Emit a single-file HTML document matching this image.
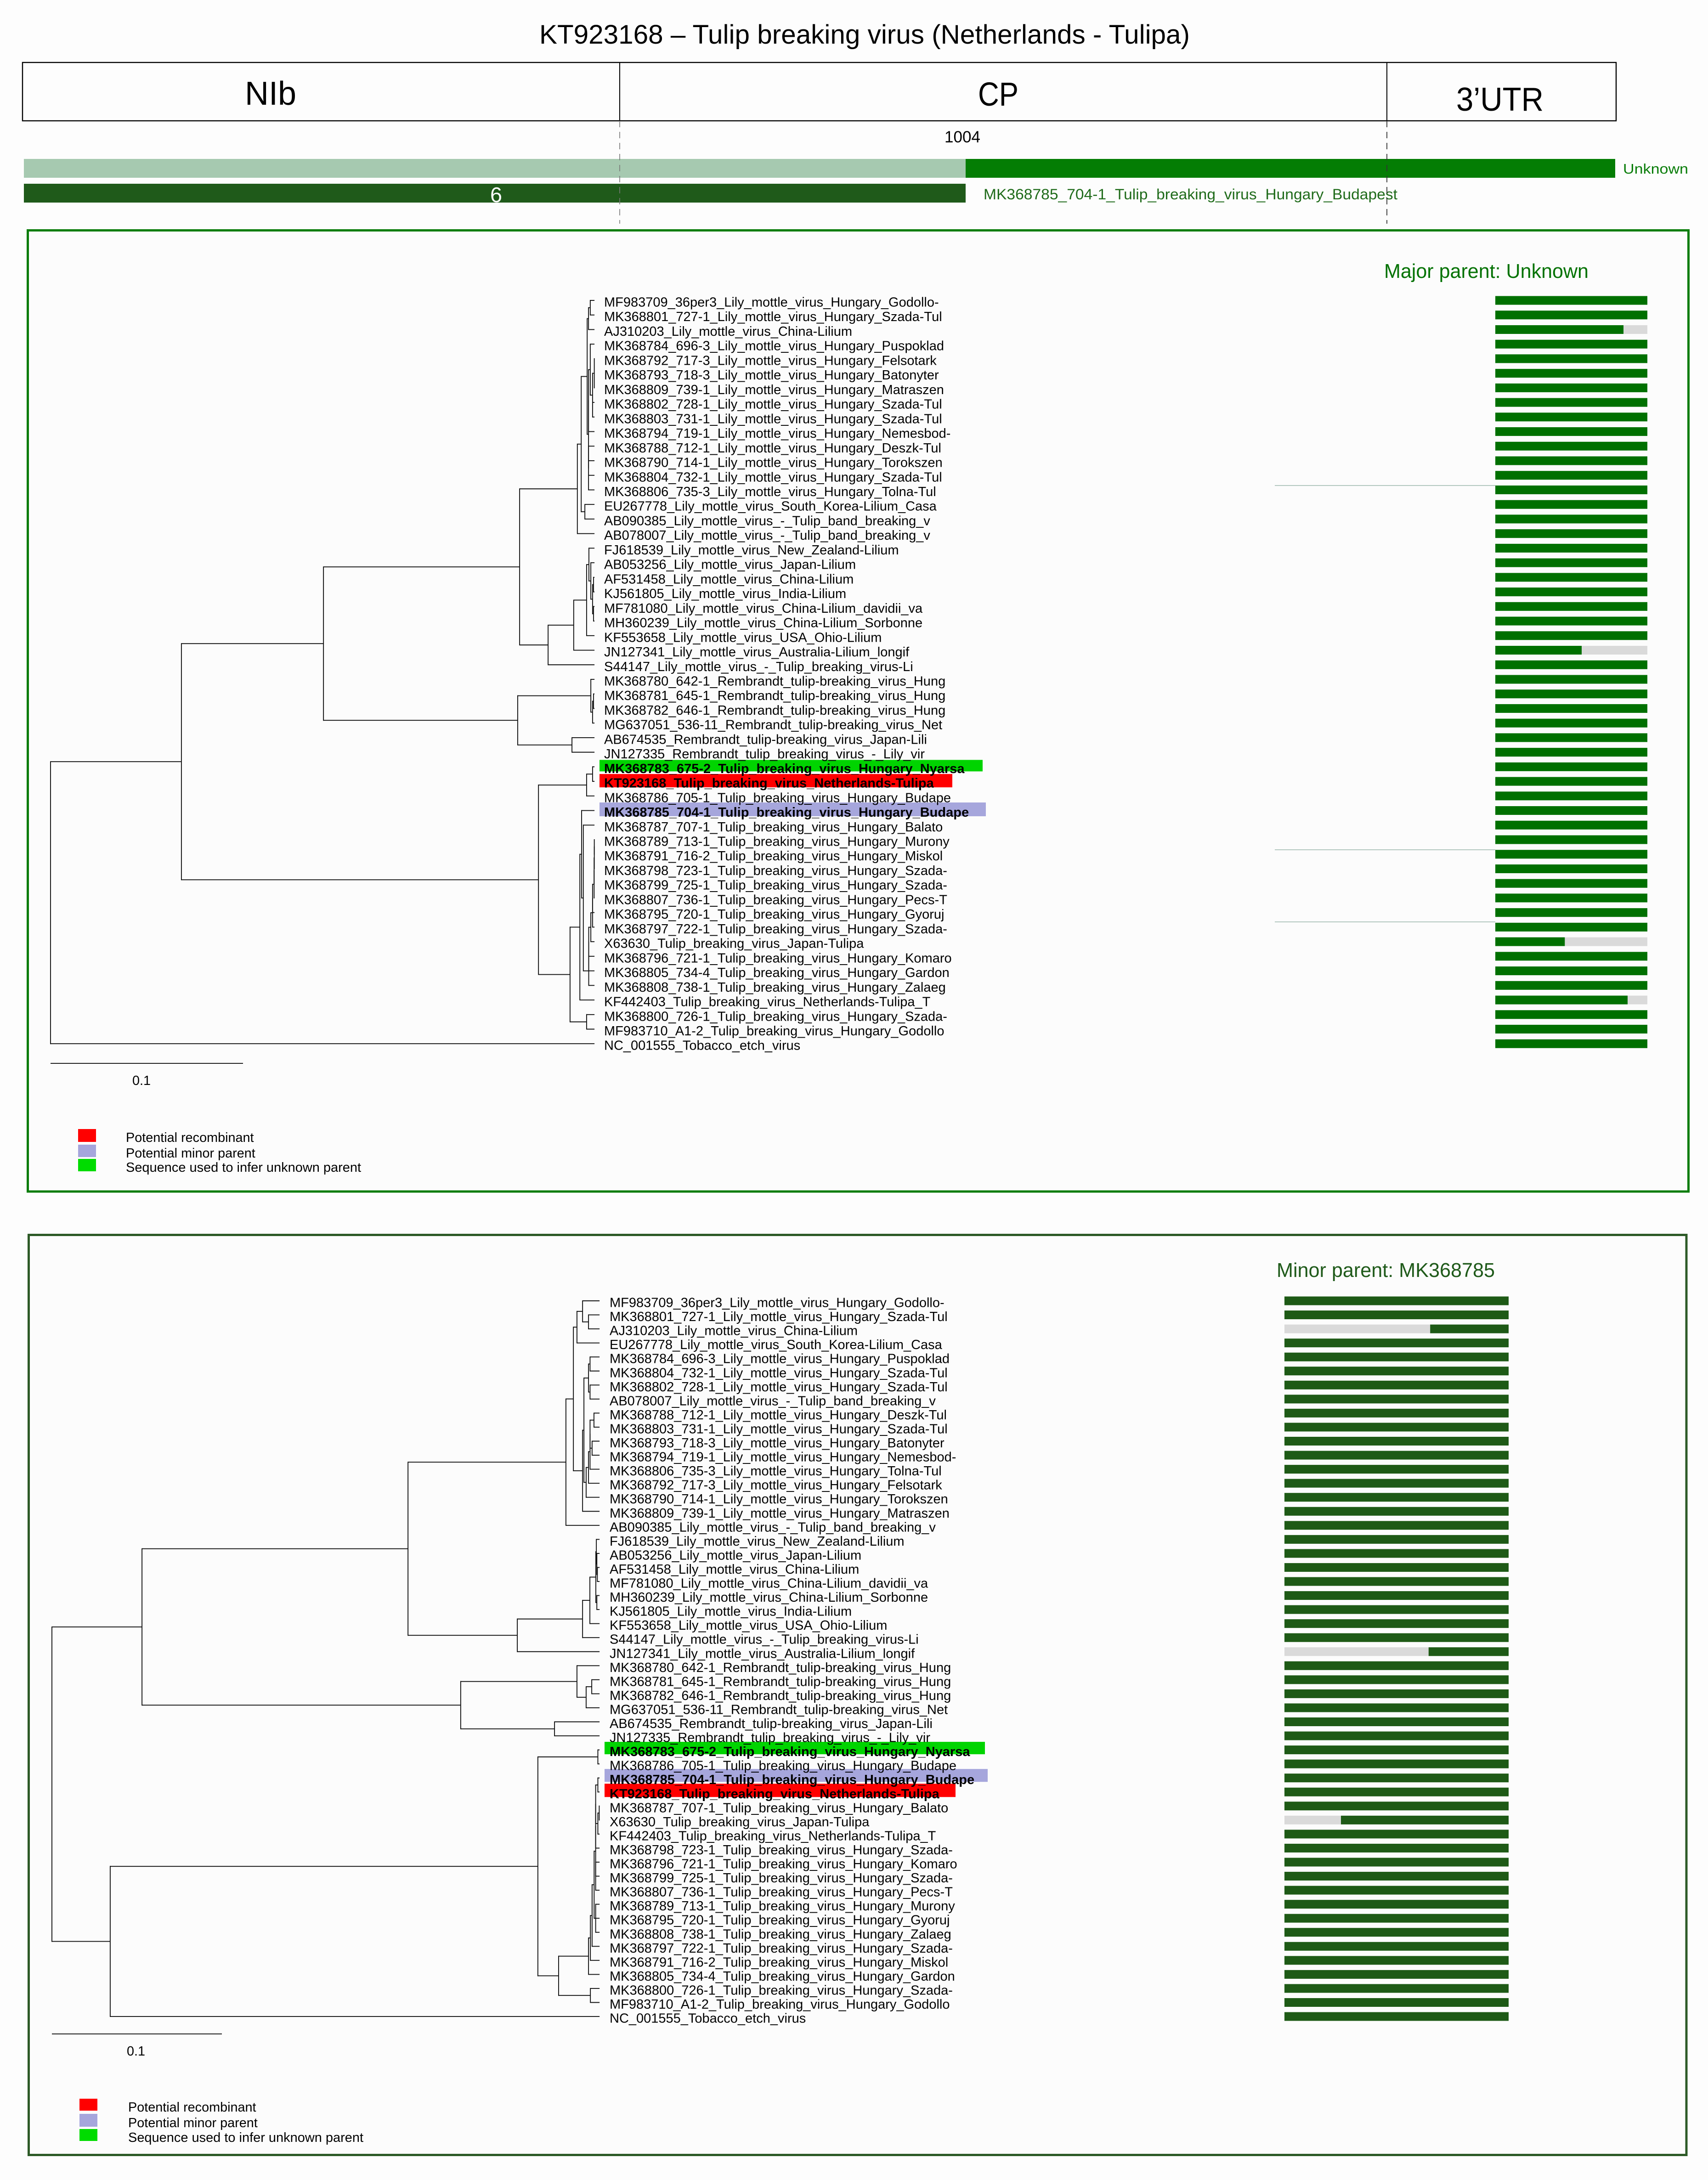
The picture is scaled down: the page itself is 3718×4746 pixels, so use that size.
<!DOCTYPE html>
<html lang="en">
<head>
<meta charset="utf-8">
<title>KT923168 recombination analysis</title>
<style>
html,body{margin:0;padding:0;background:#fdfdfd;}
body{width:3718px;height:4746px;overflow:hidden;}
svg{display:block;}
text{font-family:"Liberation Sans",sans-serif;}
</style>
</head>
<body>
<svg id="fig" xmlns="http://www.w3.org/2000/svg" width="3718" height="4746" viewBox="0 0 3718 4746">
  <rect x="0" y="0" width="3718" height="4746" fill="#fdfdfd"/>
  <text x="1174" y="95" font-size="58" textLength="1416" lengthAdjust="spacingAndGlyphs" fill="#000">KT923168 – Tulip breaking virus (Netherlands - Tulipa)</text>

  <rect x="49" y="136" width="3469" height="127" fill="#fdfdfd" stroke="#000" stroke-width="2.4"/>
  <line x1="1349" y1="136" x2="1349" y2="263" stroke="#000" stroke-width="2"/>
  <line x1="3019" y1="136" x2="3019" y2="263" stroke="#000" stroke-width="2"/>
  <text x="533" y="228" font-size="72" textLength="112" lengthAdjust="spacingAndGlyphs">NIb</text>
  <text x="2129" y="230" font-size="72" textLength="88" lengthAdjust="spacingAndGlyphs">CP</text>
  <text x="3170" y="241" font-size="72" textLength="190" lengthAdjust="spacingAndGlyphs">3’UTR</text>

  <text x="2056" y="310" font-size="35" textLength="78" lengthAdjust="spacingAndGlyphs">1004</text>

  <rect x="52" y="346" width="2050" height="41" fill="#a6c9b0"/>
  <rect x="2102" y="346" width="1414" height="41" fill="#047d04"/>
  <text x="3533" y="378" font-size="31" textLength="142" lengthAdjust="spacingAndGlyphs" fill="#0a7d0a">Unknown</text>
  <rect x="52" y="400" width="2050" height="41" fill="#1f5a1a"/>
  <text x="1067" y="440" font-size="46" textLength="26" lengthAdjust="spacingAndGlyphs" fill="#fff">6</text>
  <text x="2141" y="434" font-size="32" textLength="901" lengthAdjust="spacingAndGlyphs" fill="#1f6b1a">MK368785_704-1_Tulip_breaking_virus_Hungary_Budapest</text>

  <line x1="1349" y1="263" x2="1349" y2="487" stroke="#777" stroke-width="1.6" stroke-dasharray="14 10"/>
  <line x1="3019" y1="263" x2="3019" y2="487" stroke="#333" stroke-width="1.8" stroke-dasharray="14 10"/>

  <rect x="60.5" y="501.5" width="3615" height="2092.5" fill="#fcfcfc" stroke="#0b7d0b" stroke-width="5"/>
  <rect x="62.5" y="2688.5" width="3608.5" height="2003" fill="#fcfcfc" stroke="#2d5a27" stroke-width="5"/>

  <text x="3013" y="605" font-size="44" textLength="445" lengthAdjust="spacingAndGlyphs" fill="#047204">Major parent: Unknown</text>
  <text x="2779" y="2780" font-size="44" textLength="475" lengthAdjust="spacingAndGlyphs" fill="#1f5a1a">Minor parent: MK368785</text>

  <line x1="2775" y1="1057" x2="3255" y2="1057" stroke="#b4c8c0" stroke-width="2"/>
  <line x1="2775" y1="1850" x2="3255" y2="1850" stroke="#b4c8c0" stroke-width="2"/>
  <line x1="2775" y1="2007" x2="3255" y2="2007" stroke="#b4c8c0" stroke-width="2"/>

  <line x1="110" y1="2315" x2="529" y2="2315" stroke="#222" stroke-width="2"/>
  <text x="288" y="2362" font-size="28.8">0.1</text>
  <rect x="170" y="2458" width="39" height="28" fill="#ff0000"/>
  <rect x="170" y="2492" width="39" height="27" fill="#a6a6dc"/>
  <rect x="170" y="2523" width="39" height="27" fill="#00dc00"/>
  <text x="274" y="2486" font-size="28.8">Potential recombinant</text>
  <text x="274" y="2520" font-size="28.8">Potential minor parent</text>
  <text x="274" y="2551" font-size="28.8" textLength="512" lengthAdjust="spacingAndGlyphs">Sequence used to infer unknown parent</text>

  <line x1="113" y1="4428" x2="483" y2="4428" stroke="#222" stroke-width="2"/>
  <text x="276" y="4475" font-size="28.8">0.1</text>
  <rect x="173" y="4569" width="39" height="26" fill="#ff0000"/>
  <rect x="173" y="4602" width="39" height="28" fill="#a6a6dc"/>
  <rect x="173" y="4635" width="39" height="26" fill="#00dc00"/>
  <text x="279" y="4597" font-size="28.8">Potential recombinant</text>
  <text x="279" y="4631" font-size="28.8">Potential minor parent</text>
  <text x="279" y="4663" font-size="28.8" textLength="512" lengthAdjust="spacingAndGlyphs">Sequence used to infer unknown parent</text>

  <g id="major-layer"></g>
  <g id="minor-layer"></g>
</svg>
<script>
// ---------- Data: major-parent panel ----------
const majorTaxa = [
"MF983709_36per3_Lily_mottle_virus_Hungary_Godollo-",
"MK368801_727-1_Lily_mottle_virus_Hungary_Szada-Tul",
"AJ310203_Lily_mottle_virus_China-Lilium",
"MK368784_696-3_Lily_mottle_virus_Hungary_Puspoklad",
"MK368792_717-3_Lily_mottle_virus_Hungary_Felsotark",
"MK368793_718-3_Lily_mottle_virus_Hungary_Batonyter",
"MK368809_739-1_Lily_mottle_virus_Hungary_Matraszen",
"MK368802_728-1_Lily_mottle_virus_Hungary_Szada-Tul",
"MK368803_731-1_Lily_mottle_virus_Hungary_Szada-Tul",
"MK368794_719-1_Lily_mottle_virus_Hungary_Nemesbod-",
"MK368788_712-1_Lily_mottle_virus_Hungary_Deszk-Tul",
"MK368790_714-1_Lily_mottle_virus_Hungary_Torokszen",
"MK368804_732-1_Lily_mottle_virus_Hungary_Szada-Tul",
"MK368806_735-3_Lily_mottle_virus_Hungary_Tolna-Tul",
"EU267778_Lily_mottle_virus_South_Korea-Lilium_Casa",
"AB090385_Lily_mottle_virus_-_Tulip_band_breaking_v",
"AB078007_Lily_mottle_virus_-_Tulip_band_breaking_v",
"FJ618539_Lily_mottle_virus_New_Zealand-Lilium",
"AB053256_Lily_mottle_virus_Japan-Lilium",
"AF531458_Lily_mottle_virus_China-Lilium",
"KJ561805_Lily_mottle_virus_India-Lilium",
"MF781080_Lily_mottle_virus_China-Lilium_davidii_va",
"MH360239_Lily_mottle_virus_China-Lilium_Sorbonne",
"KF553658_Lily_mottle_virus_USA_Ohio-Lilium",
"JN127341_Lily_mottle_virus_Australia-Lilium_longif",
"S44147_Lily_mottle_virus_-_Tulip_breaking_virus-Li",
"MK368780_642-1_Rembrandt_tulip-breaking_virus_Hung",
"MK368781_645-1_Rembrandt_tulip-breaking_virus_Hung",
"MK368782_646-1_Rembrandt_tulip-breaking_virus_Hung",
"MG637051_536-11_Rembrandt_tulip-breaking_virus_Net",
"AB674535_Rembrandt_tulip-breaking_virus_Japan-Lili",
"JN127335_Rembrandt_tulip_breaking_virus_-_Lily_vir",
"MK368783_675-2_Tulip_breaking_virus_Hungary_Nyarsa",
"KT923168_Tulip_breaking_virus_Netherlands-Tulipa",
"MK368786_705-1_Tulip_breaking_virus_Hungary_Budape",
"MK368785_704-1_Tulip_breaking_virus_Hungary_Budape",
"MK368787_707-1_Tulip_breaking_virus_Hungary_Balato",
"MK368789_713-1_Tulip_breaking_virus_Hungary_Murony",
"MK368791_716-2_Tulip_breaking_virus_Hungary_Miskol",
"MK368798_723-1_Tulip_breaking_virus_Hungary_Szada-",
"MK368799_725-1_Tulip_breaking_virus_Hungary_Szada-",
"MK368807_736-1_Tulip_breaking_virus_Hungary_Pecs-T",
"MK368795_720-1_Tulip_breaking_virus_Hungary_Gyoruj",
"MK368797_722-1_Tulip_breaking_virus_Hungary_Szada-",
"X63630_Tulip_breaking_virus_Japan-Tulipa",
"MK368796_721-1_Tulip_breaking_virus_Hungary_Komaro",
"MK368805_734-4_Tulip_breaking_virus_Hungary_Gardon",
"MK368808_738-1_Tulip_breaking_virus_Hungary_Zalaeg",
"KF442403_Tulip_breaking_virus_Netherlands-Tulipa_T",
"MK368800_726-1_Tulip_breaking_virus_Hungary_Szada-",
"MF983710_A1-2_Tulip_breaking_virus_Hungary_Godollo",
"NC_001555_Tobacco_etch_virus"
];
// share of each bar that matches the major parent (coloured from the left)
const majorMatchShare = [1,1,0.843,1,1,1,1,1,1,1,1,1,1,1,1,1,1,1,1,1,1,1,1,1,0.568,1,1,1,1,1,1,1,1,1,1,1,1,1,1,1,1,1,1,1,0.457,1,1,1,0.87,1,1,1];
// tree: [node distance from root, child, child, ...]; an integer child is a row index
const majorTree = [0,
  [0.0680,
    [0.1418,
      [0.2437,
        [0.2737,
          [0.2757,
            [0.2788,
              [0.2795,[0.2804,0,1],2],
              [0.2795,
                [0.2795,
                  [0.2804,3,[0.2816,[0.2825,4,5,6],7,8]],
                  9
                ],
                [0.2795,10,11,12,13]
              ]
            ],
            [0.2776,14,15]
          ],
          16
        ],
        [0.2585,
          [0.2718,
            [0.2785,[0.2797,17,[0.2807,18,[0.2816,[0.2821,19,20],[0.2821,21,22]]]],23],
            24
          ],
          25
        ]
      ],
      [0.2427,
        [0.2807,26,[0.2816,[0.2821,27,28],29]],
        [0.2709,30,31]
      ]
    ],
    [0.2535,
      [0.2785,[0.2816,32,33],34],
      [0.2699,
        [0.2750,
          [0.2759,35,
            [0.2768,36,
              [0.2796,
                [0.2796,
                  [0.2796,
                    [0.2807,
                      [0.2816,
                        [0.2816,
                          [0.2824,[0.2824,[0.2825,[0.2825,37,38],39],40],41],
                          42
                        ],
                        43
                      ],
                      44
                    ],
                    45
                  ],
                  46
                ],
                47
              ]
            ]
          ],
          48
        ],
        [0.2785,49,50]
      ]
    ]
  ],
  51
];
const majorTipDistance = 0.2826;

// ---------- Data: minor-parent panel ----------
const minorTaxa = [
"MF983709_36per3_Lily_mottle_virus_Hungary_Godollo-",
"MK368801_727-1_Lily_mottle_virus_Hungary_Szada-Tul",
"AJ310203_Lily_mottle_virus_China-Lilium",
"EU267778_Lily_mottle_virus_South_Korea-Lilium_Casa",
"MK368784_696-3_Lily_mottle_virus_Hungary_Puspoklad",
"MK368804_732-1_Lily_mottle_virus_Hungary_Szada-Tul",
"MK368802_728-1_Lily_mottle_virus_Hungary_Szada-Tul",
"AB078007_Lily_mottle_virus_-_Tulip_band_breaking_v",
"MK368788_712-1_Lily_mottle_virus_Hungary_Deszk-Tul",
"MK368803_731-1_Lily_mottle_virus_Hungary_Szada-Tul",
"MK368793_718-3_Lily_mottle_virus_Hungary_Batonyter",
"MK368794_719-1_Lily_mottle_virus_Hungary_Nemesbod-",
"MK368806_735-3_Lily_mottle_virus_Hungary_Tolna-Tul",
"MK368792_717-3_Lily_mottle_virus_Hungary_Felsotark",
"MK368790_714-1_Lily_mottle_virus_Hungary_Torokszen",
"MK368809_739-1_Lily_mottle_virus_Hungary_Matraszen",
"AB090385_Lily_mottle_virus_-_Tulip_band_breaking_v",
"FJ618539_Lily_mottle_virus_New_Zealand-Lilium",
"AB053256_Lily_mottle_virus_Japan-Lilium",
"AF531458_Lily_mottle_virus_China-Lilium",
"MF781080_Lily_mottle_virus_China-Lilium_davidii_va",
"MH360239_Lily_mottle_virus_China-Lilium_Sorbonne",
"KJ561805_Lily_mottle_virus_India-Lilium",
"KF553658_Lily_mottle_virus_USA_Ohio-Lilium",
"S44147_Lily_mottle_virus_-_Tulip_breaking_virus-Li",
"JN127341_Lily_mottle_virus_Australia-Lilium_longif",
"MK368780_642-1_Rembrandt_tulip-breaking_virus_Hung",
"MK368781_645-1_Rembrandt_tulip-breaking_virus_Hung",
"MK368782_646-1_Rembrandt_tulip-breaking_virus_Hung",
"MG637051_536-11_Rembrandt_tulip-breaking_virus_Net",
"AB674535_Rembrandt_tulip-breaking_virus_Japan-Lili",
"JN127335_Rembrandt_tulip_breaking_virus_-_Lily_vir",
"MK368783_675-2_Tulip_breaking_virus_Hungary_Nyarsa",
"MK368786_705-1_Tulip_breaking_virus_Hungary_Budape",
"MK368785_704-1_Tulip_breaking_virus_Hungary_Budape",
"KT923168_Tulip_breaking_virus_Netherlands-Tulipa",
"MK368787_707-1_Tulip_breaking_virus_Hungary_Balato",
"X63630_Tulip_breaking_virus_Japan-Tulipa",
"KF442403_Tulip_breaking_virus_Netherlands-Tulipa_T",
"MK368798_723-1_Tulip_breaking_virus_Hungary_Szada-",
"MK368796_721-1_Tulip_breaking_virus_Hungary_Komaro",
"MK368799_725-1_Tulip_breaking_virus_Hungary_Szada-",
"MK368807_736-1_Tulip_breaking_virus_Hungary_Pecs-T",
"MK368789_713-1_Tulip_breaking_virus_Hungary_Murony",
"MK368795_720-1_Tulip_breaking_virus_Hungary_Gyoruj",
"MK368808_738-1_Tulip_breaking_virus_Hungary_Zalaeg",
"MK368797_722-1_Tulip_breaking_virus_Hungary_Szada-",
"MK368791_716-2_Tulip_breaking_virus_Hungary_Miskol",
"MK368805_734-4_Tulip_breaking_virus_Hungary_Gardon",
"MK368800_726-1_Tulip_breaking_virus_Hungary_Szada-",
"MF983710_A1-2_Tulip_breaking_virus_Hungary_Godollo",
"NC_001555_Tobacco_etch_virus"
];
// share of each bar without a match (grey, from the left)
const minorGapShare = [0,0,0.65,0,0,0,0,0,0,0,0,0,0,0,0,0,0,0,0,0,0,0,0,0,0,0.643,0,0,0,0,0,0,0,0,0,0,0,0.252,0,0,0,0,0,0,0,0,0,0,0,0,0,0];
const minorTree = [0,
  [0.0530,
    [0.2095,
      [0.3024,
        [0.3068,
          [0.3089,[0.3122,0,[0.3157,1,2]],3],
          [0.3122,
            [0.3130,
              [0.3157,[0.3166,4,5],[0.3166,6,7]],
              [0.3143,
                [0.3157,
                  [0.3166,[0.3166,[0.3189,8,9],[0.3178,10,11]],12],
                  13
                ],
                14
              ]
            ],
            15
          ]
        ],
        16
      ],
      [0.2738,
        [0.3122,
          [0.3165,
            [0.3200,[0.3203,17,[0.3206,18,[0.3209,19,20]]],[0.3206,21,22]],
            23
          ],
          24
        ],
        25
      ]
    ],
    [0.2405,
      [0.3089,26,[0.3143,[0.3176,27,28],29]],
      [0.2957,30,31]
    ]
  ],
  [0.0343,
    [0.2859,
      [0.3212,32,33],
      [0.2981,
        [0.3157,
          [0.3168,
            [0.3178,
              [0.3190,
                [0.3199,
                  [0.3199,
                    [0.3199,[0.3212,34,35],[0.3212,[0.3220,36,37],38]],
                    39
                  ],
                  [0.3199,40,41,42]
                ],
                [0.3199,43,44,45]
              ],
              46
            ],
            47
          ],
          48
        ],
        [0.3168,49,50]
      ]
    ],
    51
  ]
];
const minorTipDistance = 0.3222;

// ---------- Axis functions ----------
const SVG_NS = "http://www.w3.org/2000/svg";
const majorX = function (d) { return 110 + d * 4190; };
const minorX = function (d) { return 113 + d * 3700; };
const majorY = function (r) { return 654 + r * 31.73; };
const minorY = function (r) { return 2832 + r * 30.55; };
const majorBarX = function (s) { return 3255 + s * 331; };
const minorBarX = function (s) { return 2796 + s * 488; };

function make(tag, parent) {
  const el = document.createElementNS(SVG_NS, tag);
  parent.appendChild(el);
  return el;
}
function setAll(el, pairs) {
  for (const k in pairs) el.setAttribute(k, pairs[k]);
}

function drawTree(node, xf, yf, tipD, parent) {
  const nx = xf(node[0]);
  const ys = [];
  for (let i = 1; i < node.length; i++) {
    const c = node[i];
    let cy, cx;
    if (Array.isArray(c)) {
      cy = drawTree(c, xf, yf, tipD, parent);
      cx = xf(c[0]);
    } else {
      cy = yf(c);
      cx = xf(tipD);
    }
    const h = make("line", parent);
    
    
    setAll(h, {x1: nx, y1: cy, x2: cx, y2: cy, stroke: "#111", "stroke-width": 1.9});
    ys.push(cy);
  }
  const top = Math.min.apply(null, ys), bottom = Math.max.apply(null, ys);
  const v = make("line", parent);
  
  
  setAll(v, {x1: nx, y1: top - 1, x2: nx, y2: bottom + 1, stroke: "#111", "stroke-width": 1.9});
  return (top + bottom) / 2;
}

function drawHighlight(layer, x, y, w, h, fill, name) {
  const r = make("rect", layer);
  
  
  setAll(r, {x: x, y: y, width: w, height: h, fill: fill});
}

function drawLabels(taxa, x, yf, layer, boldRows) {
  taxa.forEach(function (name, r) {
    const t = make("text", layer);
    
    
    setAll(t, {x: x, y: yf(r) + 13.5, "font-size": 29, fill: "#000"});
    if (boldRows.indexOf(r) >= 0) t.setAttribute("font-weight", "bold");
    t.textContent = name;
  });
}

const majorLayer = document.getElementById("major-layer");
const minorLayer = document.getElementById("minor-layer");

// Major panel
drawHighlight(majorLayer, 1305, majorY(32) - 15, 834, 25, "#00d400", "infer-sequence-highlight");
drawHighlight(majorLayer, 1305, majorY(33) - 16, 768, 29, "#ff0000", "recombinant-highlight");
drawHighlight(majorLayer, 1305, majorY(35) - 17.5, 841, 30, "#a6a6dc", "minor-parent-highlight");
drawTree(majorTree, majorX, majorY, majorTipDistance, majorLayer);
drawLabels(majorTaxa, 1315, majorY, majorLayer, [32, 33, 35]);
majorMatchShare.forEach(function (share, r) {
  const y = majorY(r) - 9.5;
  const bg = make("rect", majorLayer);
  
  
  setAll(bg, {x: majorBarX(0), y: y, width: majorBarX(1) - majorBarX(0), height: 19, fill: "#dadada"});
  const b = make("rect", majorLayer);
  
  
  setAll(b, {x: majorBarX(0), y: y, width: majorBarX(share) - majorBarX(0), height: 19, fill: "#007000"});
});

// Minor panel
drawHighlight(minorLayer, 1316, minorY(32) - 17.5, 828, 27, "#00d400", "infer-sequence-highlight");
drawHighlight(minorLayer, 1316, minorY(34) - 19.5, 834, 28, "#a6a6dc", "minor-parent-highlight");
drawHighlight(minorLayer, 1316, minorY(35) - 18, 764, 29, "#ff0000", "recombinant-highlight");
drawTree(minorTree, minorX, minorY, minorTipDistance, minorLayer);
drawLabels(minorTaxa, 1327, minorY, minorLayer, [32, 34, 35]);
minorGapShare.forEach(function (share, r) {
  const y = minorY(r) - 9.5;
  const bg = make("rect", minorLayer);
  
  
  setAll(bg, {x: minorBarX(0), y: y, width: minorBarX(share) - minorBarX(0), height: 19, fill: "#dadada"});
  const b = make("rect", minorLayer);
  
  
  setAll(b, {x: minorBarX(share), y: y, width: minorBarX(1) - minorBarX(share), height: 19, fill: "#1e5a16"});
});
</script>
</body>
</html>
